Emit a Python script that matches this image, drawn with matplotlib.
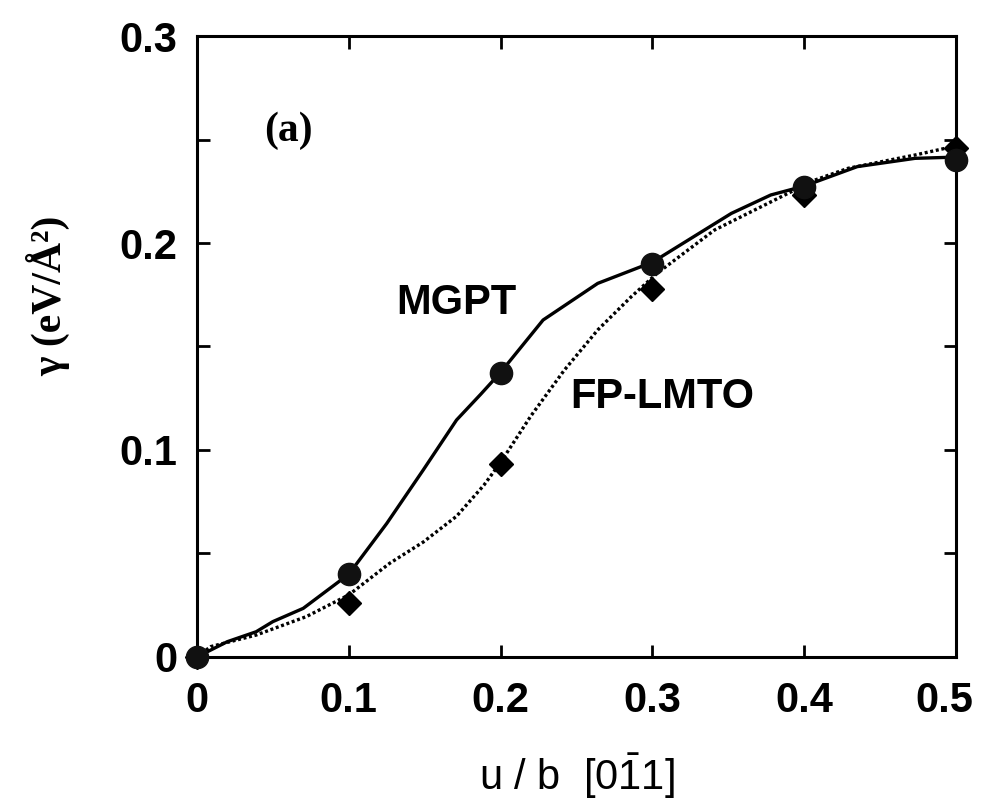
import numpy as np
import matplotlib
matplotlib.use("Agg")
import matplotlib.pyplot as plt
import matplotlib.transforms as mtransforms
from matplotlib.ticker import MultipleLocator

# 計算点 (u/b, γ)
u_pts = [0.0, 0.1, 0.2, 0.3, 0.4, 0.5]
mgpt_pts = [0.0, 0.040, 0.137, 0.190, 0.227, 0.240]
lmto_pts = [0.0, 0.026, 0.093, 0.178, 0.223, 0.246]

# 曲線
mgpt_curve_u = [0.0, 0.020, 0.039, 0.050, 0.070, 0.100, 0.125, 0.149, 0.171,
                0.187, 0.200, 0.228, 0.264, 0.300, 0.352, 0.378, 0.400, 0.435, 0.473, 0.500]
mgpt_curve_g = [0.0, 0.0074, 0.0122, 0.0171, 0.0235, 0.040, 0.0645, 0.0903, 0.1145,
                0.127, 0.1375, 0.1628, 0.1805, 0.1907, 0.2143, 0.2232, 0.2275, 0.2369, 0.2409, 0.2415]

lmto_curve_u = [0.0, 0.009, 0.039, 0.072, 0.100, 0.127, 0.149, 0.171, 0.189, 0.200,
                0.208, 0.220, 0.242, 0.264, 0.286, 0.303, 0.341, 0.385, 0.407, 0.429, 0.473, 0.500]
lmto_curve_g = [0.0, 0.005, 0.0106, 0.0195, 0.030, 0.0453, 0.0555, 0.068, 0.083, 0.094,
                0.103, 0.1165, 0.1386, 0.158, 0.174, 0.1853, 0.2063, 0.2224, 0.2304, 0.2361, 0.2425, 0.2469]

x_ticks = [0, 0.1, 0.2, 0.3, 0.4, 0.5]
x_ticklabels = ["0", "0.1", "0.2", "0.3", "0.4", "0.5"]
y_ticks = [0, 0.1, 0.2, 0.3]
y_ticklabels = ["0", "0.1", "0.2", "0.3"]

plt.rcParams['mathtext.fontset'] = 'custom'
plt.rcParams['mathtext.rm'] = 'Liberation Sans'
plt.rcParams['mathtext.it'] = 'Liberation Sans'

fig = plt.figure(figsize=(9.81, 8.11), dpi=100)
ax = fig.add_axes([0.2008, 0.1899, 0.7737, 0.7657])

ax.plot(mgpt_curve_u, mgpt_curve_g, color='black', lw=2.4, solid_joinstyle='round', zorder=2)
ax.plot(lmto_curve_u, lmto_curve_g, color='black', lw=2.4, linestyle=(0, (0.9, 0.8)), zorder=2)
ax.plot(u_pts, mgpt_pts, 'o', color='#111111', markersize=16, clip_on=False, zorder=4)
ax.plot(u_pts, lmto_pts, 'D', color='black', markersize=12, clip_on=False, zorder=3)

ax.set_xlim(0, 0.5)
ax.set_ylim(0, 0.3)
ax.set_xticks(x_ticks)
ax.set_xticklabels(x_ticklabels)
ax.set_yticks(y_ticks)
ax.set_yticklabels(y_ticklabels)
ax.yaxis.set_minor_locator(MultipleLocator(0.05))

ax.tick_params(which='both', direction='in', top=True, right=True, length=9, width=2)
ax.tick_params(axis='x', pad=17)
ax.tick_params(axis='y', pad=14)
for sp in ax.spines.values():
    sp.set_linewidth(2.2)

for lab in ax.get_xticklabels() + ax.get_yticklabels():
    lab.set_fontfamily('Liberation Sans')
    lab.set_fontweight('bold')
    lab.set_fontsize(30)

# 右端の 0.5 は少し左へ（tick_params の後に設定）
last = ax.xaxis.get_major_ticks()[-1].label1
last.set_transform(last.get_transform() + mtransforms.ScaledTranslation(-12 / 100, 0, fig.dpi_scale_trans))

ax.set_xlabel(r"u / b  [0$\bar{\mathrm{1}}$1]", fontfamily='Liberation Sans', fontsize=30, labelpad=22)
ax.set_ylabel("γ (eV/Å²)", fontfamily='Liberation Serif', fontweight='bold', fontsize=30)
ax.yaxis.set_label_coords(-0.167, 0.581)

ax.text(0.1708, 0.171, "MGPT", fontfamily='Liberation Sans', fontweight='bold', fontsize=30,
        ha='center', va='center')
ax.text(0.3068, 0.1254, "FP-LMTO", fontfamily='Liberation Sans', fontweight='bold', fontsize=30,
        ha='center', va='center')
ax.text(0.060, 0.254, "(a)", fontfamily='Liberation Serif', fontweight='bold', fontsize=30,
        ha='center', va='center')

fig.savefig("out.png", dpi=100)
